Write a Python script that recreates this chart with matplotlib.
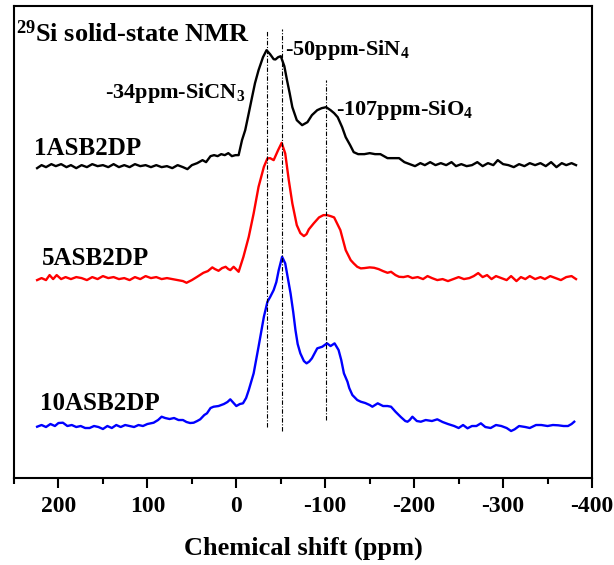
import numpy as np
import matplotlib
matplotlib.use('Agg')
import matplotlib.pyplot as plt

plt.rcParams['font.family'] = 'Liberation Serif'
plt.rcParams['font.weight'] = 'bold'
plt.rcParams['axes.unicode_minus'] = False
plt.rcParams['mathtext.fontset'] = 'custom'
plt.rcParams['mathtext.rm'] = 'Liberation Serif:bold'
plt.rcParams['mathtext.it'] = 'Liberation Serif:bold'
plt.rcParams['mathtext.bf'] = 'Liberation Serif:bold'

# 1ASB2DP (black)
ppm_1 = [224, 219, 214, 208, 203, 197, 191, 186, 180, 174, 168, 162, 156, 150, 144, 138, 132, 126,
         120, 114, 108, 102, 96, 90, 84, 78, 72, 66, 60, 55, 50, 44, 38, 34, 29, 25, 21, 17, 13, 9, 5,
         1, -2.6, -6.4, -10, -14, -17.7, -21, -25, -30, -34, -38, -42, -44, -47, -50, -54, -57, -60,
         -63, -68, -74, -80, -85, -91, -96, -101, -106, -110, -114, -119, -123, -128, -132, -137,
         -144, -150, -156, -162, -166, -170, -176, -183, -189, -195, -201, -207, -212, -218, -224,
         -230, -236, -242, -247, -253, -259, -265, -271, -277, -283, -289, -294, -300, -306, -312,
         -318, -324, -330, -336, -342, -348, -354, -360, -366, -371, -377, -382]
int_1 = [310, 313, 311, 314, 312, 314, 311, 313, 310, 313, 311, 314, 312, 313, 311, 314, 311, 313,
         311, 314, 312, 313, 311, 313, 311, 312, 310, 313, 311, 309, 313, 315, 318, 316, 322, 323, 322,
         324, 323, 325, 322, 323, 323, 338, 348, 365, 381, 395, 408, 421, 428, 424, 419, 418.7, 421,
         422, 412, 398, 385, 371, 358, 353, 356, 363, 368, 370, 371, 368, 365, 361, 351, 341, 333,
         326, 324, 324, 325, 324, 324, 322, 320, 320, 320, 316, 314, 312, 315, 313, 316, 313, 315,
         313, 316, 312, 314, 312, 313, 316, 312, 315, 313, 318, 314, 313, 311, 314, 312, 315, 313,
         315, 312, 316, 311, 315, 313, 315, 313]

# 5ASB2DP (red)
ppm_5 = [224, 219, 214, 210, 206, 202, 197, 192, 186, 180, 174, 168, 162, 156, 150, 144, 138, 132,
         126, 120, 114, 108, 102, 96, 90, 84, 78, 72, 66, 60, 56, 50, 44, 37, 32, 27, 24, 20, 16, 12,
         9, 6.7, 3, -2.6, -8, -14, -19.5, -25, -31, -35, -38, -42, -47, -51, -55, -59, -63, -68, -72,
         -76, -79, -81.5, -87, -93, -98, -102, -106, -110, -117, -123, -128.6, -132, -136, -140, -144,
         -150, -155, -160, -165, -170, -174, -179, -183, -188, -193, -198, -204, -210, -215, -220,
         -226, -232, -238, -244, -250, -256, -262, -267, -272, -277, -282, -287, -292, -298, -304,
         -309, -315, -320, -325, -330, -336, -342, -347, -353, -359, -365, -371, -377, -382]
int_5 = [198, 200, 198, 203, 199, 203, 199, 201, 199, 201, 200, 198, 201, 199, 202, 200, 201, 199,
         200, 198, 201, 199, 202, 200, 201, 199, 200, 199, 198, 197, 195.3, 198, 201.3, 205.3, 207,
         210.7, 209, 207.3, 210, 211.3, 209, 208, 211.3, 206.3, 221.3, 241.3, 264.7, 291.3, 311.3,
         319.7, 320, 318, 328, 335.3, 324.7, 298, 274.7, 253, 245, 242, 244, 248.7, 254.7, 260.7, 263,
         263, 262, 260.7, 248, 228, 218, 214.7, 211.3, 209.7, 210, 210.7, 210.3, 209, 207, 205.3,
         206.3, 203, 201.3, 201, 202, 200, 201, 199, 202, 200, 198, 199, 197, 199, 201, 199, 200, 202,
         205, 201, 203, 199, 202, 200, 198, 202, 197, 201, 199, 202, 199, 201, 199, 202, 200, 198,
         201, 202, 199]

# 10ASB2DP (blue)
ppm_10 = [224, 219, 214, 209, 204, 200, 195, 190, 185, 180, 175, 170, 165, 160, 155, 150, 145, 140,
          135, 130, 125, 120, 115, 110, 105, 100, 95, 93, 88, 84, 80, 75, 70, 65, 60, 56, 52, 48, 44,
          40.6, 36, 33, 29, 25.6, 20, 14, 10, 6.8, 3, 0, -4, -7.5, -11, -14, -19.5, -25, -31, -35, -38,
          -42, -45, -47.7, -51.5, -55, -58, -61, -64, -66.5, -69, -72, -76, -79, -82, -85, -91, -96.6,
          -102, -106, -110.5, -115, -118, -121, -125, -127, -130.5, -136, -140, -145, -150, -153, -159,
          -165, -170, -174, -179, -185, -190, -192.5, -195, -198, -203, -207.5, -213, -220, -226, -232,
          -238, -245, -250, -255, -260, -265, -270, -275, -280, -286, -292, -298, -304, -309, -313,
          -318, -325, -330, -337, -343, -350, -356, -362, -368, -373, -377, -380]
int_10 = [51.3, 53, 51, 54, 52, 55, 55.3, 52, 53, 51, 52, 50, 50, 52, 51, 49, 52, 50, 53, 51, 53, 52,
          51, 53, 52, 54, 55, 55.3, 58, 61.3, 60, 59, 60, 58, 58, 56, 55, 55.3, 57, 58.7, 63, 64.7, 70,
          71.3, 72, 74, 76, 78.7, 75, 72, 74, 74.7, 80, 88, 104.7, 131.3, 161.3, 176.3, 181, 188, 196,
          208, 221.3, 214.7, 200, 184.7, 166, 148, 134, 124.7, 117, 114.7, 116.5, 119.7, 129.7, 131.3,
          134.7, 132, 134.7, 128, 118, 104.7, 96.3, 90, 83, 78, 76.3, 75, 73, 71.3, 74.7, 72, 72, 71.3,
          66.3, 61, 57, 56.3, 58, 61.3, 57, 56.3, 58, 57, 58.7, 56, 54, 52, 50, 53, 49.7, 52, 52, 54.7,
          51, 50, 53, 52, 50, 47, 48.7, 52, 51, 50, 53, 53, 52, 53, 52.7, 52, 52, 54, 56.3]

names = ['1ASB2DP', '5ASB2DP', '10ASB2DP']
colors = ['black', 'red', 'blue']

# reference peak lines: ppm, bottom, top
peak_ppm = [-34, -51, -101]
peak_lo = [51, 47.5, 58]
peak_hi = [447, 449, 398]

fig = plt.figure(figsize=(6.14, 5.65), dpi=100)
ax = fig.add_axes([0.0228, 0.154, 0.9414, 0.835])

for x, y, c in zip([ppm_1, ppm_5, ppm_10], [int_1, int_5, int_10], colors):
    ax.plot(x, y, color=c, lw=1.7)

for p, lo, hi in zip(peak_ppm, peak_lo, peak_hi):
    ax.plot([p, p], [lo, hi], color='black', lw=0.8, ls=(0, (4, 1.5, 1, 1.5)))

ax.set_xlim(250, -400)
ax.set_ylim(0, 472)
ax.set_yticks([])
ax.set_xticks([200, 100, 0, -100, -200, -300, -400])
ax.set_xticks(np.arange(250, -400, -50), minor=True)
ax.tick_params(axis='x', which='major', direction='out', length=7, width=1.5, labelsize=17, pad=6)
ax.tick_params(axis='x', which='minor', direction='out', length=4, width=1.5)
for s in ax.spines.values():
    s.set_linewidth(1.5)
for lab in ax.get_xticklabels():
    lab.set_fontweight('bold')

ax.set_xlabel('Chemical shift (ppm)', fontsize=19, fontweight='bold', labelpad=14)

ax.text(248, 436, r'$^{29}$Si solid-state NMR', fontsize=19, fontweight='bold', va='baseline')
ax.text(-55, 423, r'-50ppm-SiN$_4$', fontsize=16, fontweight='bold', va='baseline')
ax.text(148, 380, r'-34ppm-SiCN$_3$', fontsize=16, fontweight='bold', va='baseline')
ax.text(-112, 363, r'-107ppm-SiO$_4$', fontsize=16, fontweight='bold', va='baseline')

for name, xt, yt in zip(names, [227, 219, 221], [323, 213, 68]):
    ax.text(xt, yt, name, fontsize=18, fontweight='bold', va='baseline')

fig.savefig('out.png', dpi=100)
